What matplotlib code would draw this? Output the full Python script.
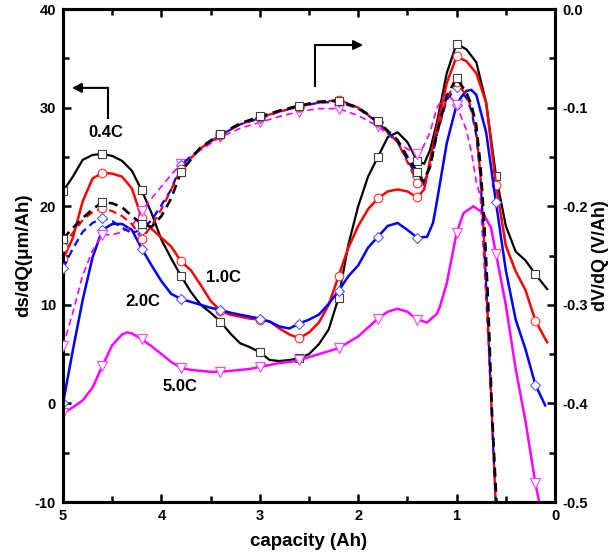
import numpy as np
import matplotlib
matplotlib.use("Agg")
import matplotlib.pyplot as plt
from matplotlib.ticker import MultipleLocator

plt.rcParams['font.family'] = ['Liberation Sans', 'DejaVu Sans']
plt.rcParams['font.weight'] = 'bold'

# ---------------- data ----------------
marker_caps = [5.0, 4.6, 4.2, 3.8, 3.4, 3.0, 2.6, 2.2, 1.8, 1.4, 1.0, 0.6, 0.2]

# ds/dQ (um/Ah), solid lines
cap_04 = [5.0, 4.9, 4.8, 4.7, 4.6, 4.5, 4.4, 4.3, 4.2, 4.1, 4.0, 3.9, 3.8, 3.7, 3.6, 3.5, 3.4, 3.3,
          3.2, 3.1, 3.0, 2.9, 2.8, 2.7, 2.6, 2.5, 2.4, 2.3, 2.2, 2.1, 2.0, 1.9, 1.8, 1.7, 1.6, 1.5,
          1.4, 1.33, 1.27, 1.2, 1.1, 1.0, 0.9, 0.8, 0.7, 0.6, 0.5, 0.4, 0.3, 0.2, 0.08]
ds_04 = [21.5, 23.0, 24.7, 25.2, 25.3, 25.1, 24.6, 23.6, 21.6, 19.3, 16.6, 14.7, 12.9, 11.3, 10.0,
         9.2, 8.3, 7.1, 6.1, 5.7, 5.2, 4.4, 4.3, 4.4, 4.6, 5.0, 6.0, 7.5, 10.7, 16.1, 20.0, 23.0,
         25.0, 27.0, 27.5, 26.5, 24.6, 24.3, 25.7, 28.5, 33.5, 36.5, 35.9, 34.6, 30.5, 23.1, 18.0,
         15.4, 14.5, 13.1, 11.6]

cap_10 = cap_04
ds_10 = [14.6, 16.8, 20.5, 22.8, 23.4, 23.3, 23.0, 21.8, 18.8, 17.7, 16.8, 15.9, 14.4, 13.5, 12.0,
         10.4, 9.4, 9.0, 8.8, 8.6, 8.5, 8.3, 7.6, 7.0, 6.6, 7.2, 8.2, 10.0, 12.9, 15.8, 18.0, 19.7,
         20.8, 21.5, 21.7, 21.5, 20.9, 21.7, 24.7, 28.0, 32.5, 35.2, 34.7, 33.5, 30.5, 22.2, 16.0,
         13.4, 11.5, 8.4, 6.2]

cap_20 = [5.0, 4.9, 4.8, 4.7, 4.6, 4.5, 4.4, 4.3, 4.2, 4.1, 4.0, 3.9, 3.8, 3.7, 3.6, 3.5, 3.4, 3.3,
          3.2, 3.1, 3.0, 2.9, 2.8, 2.7, 2.6, 2.5, 2.4, 2.3, 2.2, 2.1, 2.0, 1.9, 1.8, 1.7, 1.6, 1.5,
          1.4, 1.3, 1.24, 1.2, 1.1, 1.0, 0.95, 0.9, 0.85, 0.8, 0.7, 0.6, 0.5, 0.4, 0.3, 0.2, 0.1]
ds_20 = [0.0, 5.4, 10.5, 14.8, 17.6, 18.2, 18.2, 17.6, 15.7, 14.0, 12.4, 11.1, 10.6, 10.3, 10.0,
         9.7, 9.5, 9.2, 9.0, 8.8, 8.6, 8.3, 7.8, 7.6, 8.1, 8.5, 9.0, 10.1, 11.4, 12.9, 14.0, 15.8,
         16.9, 18.0, 18.3, 17.6, 16.8, 16.9, 18.3, 20.5, 26.4, 30.3, 31.1, 31.7, 31.8, 31.3, 27.5,
         20.4, 13.5, 8.5, 5.5, 1.9, -0.2]

cap_50 = [5.0, 4.9, 4.8, 4.7, 4.6, 4.5, 4.4, 4.35, 4.3, 4.2, 4.1, 4.0, 3.9, 3.8, 3.7, 3.6, 3.5, 3.4,
          3.3, 3.2, 3.1, 3.0, 2.9, 2.8, 2.7, 2.6, 2.5, 2.4, 2.3, 2.2, 2.1, 2.0, 1.9, 1.8, 1.7, 1.6,
          1.5, 1.4, 1.3, 1.2, 1.17, 1.1, 1.0, 0.93, 0.83, 0.73, 0.65, 0.6, 0.5, 0.4, 0.3, 0.2, 0.15]
ds_50 = [-1.0, -0.4, 0.3, 1.6, 3.8, 5.9, 7.0, 7.2, 7.1, 6.5, 5.8, 5.0, 4.2, 3.6, 3.4, 3.3, 3.2, 3.2,
         3.3, 3.4, 3.5, 3.7, 3.9, 4.1, 4.2, 4.4, 4.7, 5.0, 5.3, 5.6, 6.2, 6.8, 7.7, 8.6, 9.3, 9.6,
         9.3, 8.5, 8.2, 9.1, 9.8, 12.2, 17.3, 19.3, 20.0, 19.3, 17.8, 15.2, 10.0, 3.5, -1.8, -8.1,
         -10.5]

# dV/dQ (V/Ah), dashed lines
cap_dv = [5.0, 4.9, 4.8, 4.7, 4.6, 4.5, 4.4, 4.3, 4.2, 4.1, 4.0, 3.9, 3.8, 3.6, 3.4, 3.2, 3.0, 2.8,
          2.6, 2.4, 2.2, 2.0, 1.8, 1.6, 1.5, 1.4, 1.34, 1.27, 1.2, 1.1, 1.0, 0.9, 0.85, 0.8, 0.76,
          0.72, 0.68, 0.64, 0.59]
dv_04 = [-0.233, -0.222, -0.212, -0.203, -0.196, -0.197, -0.201, -0.210, -0.218, -0.221, -0.210,
         -0.192, -0.165, -0.140, -0.127, -0.116, -0.109, -0.103, -0.098, -0.094, -0.093, -0.100,
         -0.114, -0.133, -0.150, -0.165, -0.175, -0.160, -0.126, -0.088, -0.070, -0.085, -0.097,
         -0.118, -0.156, -0.215, -0.296, -0.410, -0.510]
dv_10 = [-0.241, -0.227, -0.214, -0.206, -0.202, -0.205, -0.210, -0.218, -0.233, -0.220, -0.203,
         -0.183, -0.162, -0.141, -0.128, -0.117, -0.110, -0.104, -0.099, -0.095, -0.092, -0.100,
         -0.115, -0.135, -0.155, -0.176, -0.180, -0.160, -0.125, -0.090, -0.074, -0.088, -0.100,
         -0.125, -0.165, -0.235, -0.320, -0.415, -0.530]
dv_20 = [-0.263, -0.243, -0.226, -0.217, -0.212, -0.215, -0.222, -0.227, -0.224, -0.214, -0.199,
         -0.183, -0.158, -0.141, -0.128, -0.117, -0.111, -0.104, -0.099, -0.095, -0.094, -0.101,
         -0.115, -0.135, -0.153, -0.170, -0.178, -0.160, -0.127, -0.092, -0.079, -0.090, -0.103,
         -0.128, -0.168, -0.238, -0.322, -0.418, -0.530]
dv_50 = [-0.342, -0.308, -0.270, -0.245, -0.229, -0.229, -0.226, -0.220, -0.205, -0.192, -0.180,
         -0.168, -0.157, -0.143, -0.130, -0.121, -0.115, -0.109, -0.104, -0.101, -0.101, -0.108,
         -0.119, -0.135, -0.142, -0.147, -0.140, -0.125, -0.100, -0.085, -0.097, -0.123, -0.145,
         -0.175, -0.190, -0.260, -0.335, -0.420, -0.530]

rate_labels = ['0.4C', '1.0C', '2.0C', '5.0C']

# ---------------- style ----------------
line_colors = ['#000000', '#ff0000', '#0000ff', '#ff00ff']
edge_colors = ['#404040', '#ff3030', '#5a5aff', '#ff40ff']
markers = ['s', 'o', 'D', 'v']
msizes = [5.6, 6.2, 5.6, 6.8]

fig = plt.figure(figsize=(6.09, 5.53), dpi=100)
ax = fig.add_axes([0.10345, 0.0922, 0.8079, 0.8915])
ax2 = ax.twinx()

solid = [(cap_04, ds_04), (cap_10, ds_10), (cap_20, ds_20), (cap_50, ds_50)]
dashed = [(cap_dv, dv_04), (cap_dv, dv_10), (cap_dv, dv_20), (cap_dv, dv_50)]
solid_lw = [1.6, 1.8, 1.8, 1.8]
dash_lw = [1.9, 1.6, 1.6, 1.2]


def marker_idx(caps, upto=0.0):
    caps = np.asarray(caps)
    idx = []
    for c in marker_caps:
        if c < upto:
            continue
        hit = np.where(np.isclose(caps, c))[0]
        if len(hit):
            idx.append(int(hit[0]))
    return idx


for i, (cx, cy) in enumerate(solid):
    ax.plot(cx, cy, color=line_colors[i], lw=solid_lw[i], zorder=3,
            marker=markers[i], markevery=marker_idx(cx), ms=msizes[i],
            mfc='white', mec=edge_colors[i], mew=0.8)

for i in [3, 2, 1, 0]:
    cx, cy = dashed[i]
    dash = (3.5, 2.2) if i < 3 else (4, 2.5)
    ax2.plot(cx, cy, color=line_colors[i], lw=dash_lw[i], ls=(0, dash), zorder=3,
             marker=markers[i], markevery=marker_idx(cx, upto=1.0), ms=msizes[i],
             mfc='white', mec=edge_colors[i], mew=0.8)

# axes limits and ticks
ax.set_xlim(5, 0)
ax.set_ylim(-10, 40)
ax2.set_ylim(-0.5, 0.0)

ax.xaxis.set_minor_locator(MultipleLocator(0.5))
ax.yaxis.set_minor_locator(MultipleLocator(5))
ax2.yaxis.set_minor_locator(MultipleLocator(0.05))

ax.set_xticks([5, 4, 3, 2, 1, 0])
ax.set_xticklabels(['5', '4', '3', '2', '1', '0'])
ax.set_yticks([-10, 0, 10, 20, 30, 40])
ax.set_yticklabels(['-10', '0', '10', '20', '30', '40'])
ax2.set_yticks([-0.5, -0.4, -0.3, -0.2, -0.1, 0.0])
ax2.set_yticklabels(['-0.5', '-0.4', '-0.3', '-0.2', '-0.1', '0.0'])

ax.tick_params(axis='both', which='both', direction='in', top=True, right=False, width=1.8,
               labelsize=10.5, pad=5)
ax.tick_params(which='major', length=6)
ax.tick_params(which='minor', length=4)
ax2.tick_params(axis='y', which='both', direction='in', width=1.8, labelsize=10.5, pad=5)
ax2.tick_params(which='major', length=6)
ax2.tick_params(which='minor', length=4)

for a in (ax, ax2):
    for s in a.spines.values():
        s.set_linewidth(2.2)
    for lab in a.get_xticklabels() + a.get_yticklabels():
        lab.set_fontweight('bold')

ax.set_xlabel('capacity (Ah)', fontsize=13.5, fontweight='bold', labelpad=7)
ax.set_ylabel('ds/dQ(\u03bcm/Ah)', fontsize=13.5, fontweight='bold', labelpad=2)
ax2.set_ylabel('dV/dQ (V/Ah)', fontsize=13, fontweight='bold', labelpad=3)

# rate labels
label_pos = [(4.57, 27.5), (3.37, 12.8), (4.19, 10.3), (3.81, 1.7)]
for txt, (x, y) in zip(rate_labels, label_pos):
    ax.text(x, y, txt, fontsize=12, fontweight='bold', ha='center', va='center', zorder=5)

# arrows indicating the axes
ax.plot([4.54, 4.54], [28.9, 32.0], color='k', lw=1.5, zorder=5)
ax.annotate('', xy=(4.91, 32.0), xytext=(4.54, 32.0),
            arrowprops=dict(arrowstyle='-|>', lw=1.5, color='k', mutation_scale=14,
                            shrinkA=0, shrinkB=0), zorder=5)
ax.plot([2.44, 2.44], [32.2, 36.35], color='k', lw=1.5, zorder=5)
ax.annotate('', xy=(1.95, 36.35), xytext=(2.44, 36.35),
            arrowprops=dict(arrowstyle='-|>', lw=1.5, color='k', mutation_scale=14,
                            shrinkA=0, shrinkB=0), zorder=5)

fig.savefig('out.png', dpi=100)
